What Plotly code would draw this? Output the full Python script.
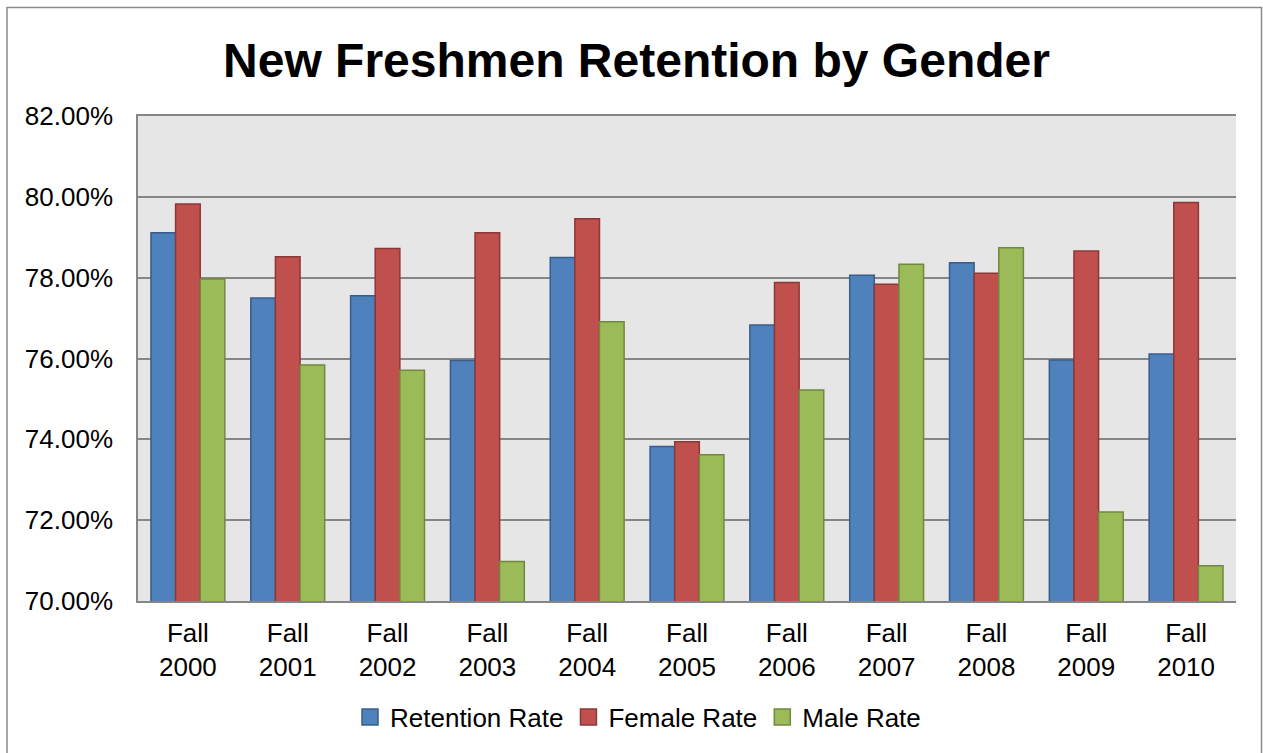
import plotly.graph_objects as go

categories = ["Fall<br>2000", "Fall<br>2001", "Fall<br>2002", "Fall<br>2003", "Fall<br>2004",
              "Fall<br>2005", "Fall<br>2006", "Fall<br>2007", "Fall<br>2008", "Fall<br>2009",
              "Fall<br>2010"]
retention_rate = [79.11, 77.50, 77.55, 75.95, 78.50, 73.82, 76.83, 78.06, 78.37, 75.96, 76.11]
female_rate = [79.82, 78.52, 78.72, 79.11, 79.46, 73.94, 77.88, 77.84, 78.11, 78.66, 79.86]
male_rate = [77.97, 75.84, 75.71, 70.98, 76.91, 73.62, 75.22, 78.33, 78.74, 72.20, 70.87]
series_names = ["Retention Rate", "Female Rate", "Male Rate"]
y_ticks = [70, 72, 74, 76, 78, 80, 82]
y_tick_labels = ["70.00%", "72.00%", "74.00%", "76.00%", "78.00%", "80.00%", "82.00%"]

fills = ["#4F81BD", "#C0504D", "#9BBB59"]
edges = ["#385D8A", "#8C3836", "#71893F"]
FONT = "Arial, Liberation Sans, sans-serif"

W, H = 1263, 753
L, R, T, B = 138, 27, 116, 152
pw, ph = W - L - R, H - T - B

def px_x(p):
    return (p - L) / pw

def px_y(p):
    return (H - B - p) / ph

fig = go.Figure()
for name, vals, fc, ec in zip(series_names, [retention_rate, female_rate, male_rate], fills, edges):
    fig.add_trace(go.Bar(x=categories, y=vals, name=name, marker=dict(color=fc, line=dict(color=ec, width=1.5)),
                         showlegend=False))
for name, fc, ec in zip(series_names, fills, edges):
    fig.add_trace(go.Scatter(x=[None], y=[None], mode="markers", name=name,
                             marker=dict(symbol="square", size=17, color=fc, line=dict(color=ec, width=1.5))))

fig.update_layout(
    width=W, height=H,
    margin=dict(l=L, r=R, t=T, b=B, pad=0),
    paper_bgcolor="white", plot_bgcolor="#E6E6E6",
    barmode="group", bargap=0.26, bargroupgap=0,
    font=dict(family=FONT, size=26, color="black"),
    title=dict(text="<b>New Freshmen Retention by Gender</b>", x=0.5 + 5 / W, xref="container", xanchor="center",
               y=1 - 60 / H, yref="container", yanchor="middle",
               font=dict(family=FONT, size=48, color="black")),
    showlegend=True,
    legend=dict(orientation="h", x=px_x(638), xanchor="center", y=px_y(717), yanchor="middle",
                font=dict(family=FONT, size=26, color="black"), itemwidth=30, bgcolor="rgba(0,0,0,0)"),
    xaxis=dict(type="category", showgrid=False, showline=True, linecolor="#868686", linewidth=1.5,
               mirror=True, ticks="", tickfont=dict(size=26), ticklabelstandoff=8),
    yaxis=dict(range=[70, 82], tickvals=y_ticks, ticktext=y_tick_labels,
               showgrid=True, gridcolor="#868686", gridwidth=1.5, showline=True, linecolor="#868686",
               linewidth=1.5, ticks="", tickfont=dict(size=26), ticklabelstandoff=18, zeroline=False),
)

fig.add_shape(type="rect", xref="paper", yref="paper",
              x0=px_x(7), x1=px_x(1261.5), y0=px_y(770), y1=px_y(7.5),
              line=dict(color="#8A8A8A", width=1.5), fillcolor="rgba(0,0,0,0)", layer="below")

fig.write_html("out.html", config={"displayModeBar": False},
               post_script="document.body.style.margin='0';document.body.style.overflow='hidden';")
